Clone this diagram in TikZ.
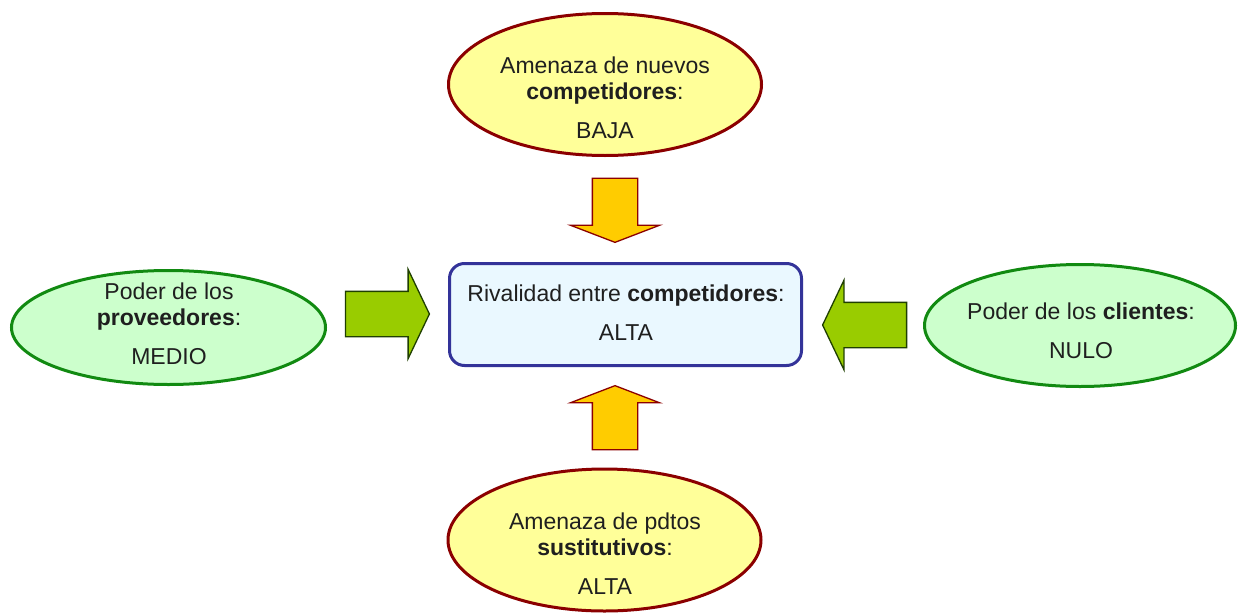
\documentclass[tikz,border=0pt]{standalone}
\usepackage{fontspec}
\setmainfont{Liberation Sans}
\usepackage{xcolor}
\usetikzlibrary{positioning, shapes.geometric, shapes.arrows}

\definecolor{amarillo}{HTML}{FFFF99}
\definecolor{granate}{HTML}{8B0000}
\definecolor{verdeclaro}{HTML}{CCFFCC}
\definecolor{verdeborde}{HTML}{118A11}
\definecolor{verdeflecha}{HTML}{99CC00}
\definecolor{verdeosc}{HTML}{1F3F00}
\definecolor{naranja}{HTML}{FFCC00}
\definecolor{azulborde}{HTML}{333399}
\definecolor{celeste}{HTML}{EAF8FF}

\begin{document}
\begin{tikzpicture}[x=1pt, y=-1pt,
  txt/.style={align=center, text=black!88, inner sep=0pt,
    font=\fontsize{23}{26}\selectfont},
  amenaza/.style={ellipse, draw=granate, fill=amarillo, line width=3pt,
    minimum width=313pt, minimum height=142pt, inner sep=0pt},
  poder/.style={ellipse, draw=verdeborde, fill=verdeclaro, line width=3pt,
    inner sep=0pt},
  rivalidad/.style={draw=azulborde, fill=celeste, line width=3pt,
    rounded corners=15pt, minimum width=352pt, minimum height=102pt},
  flecha/.style={single arrow, line width=1.3pt, inner xsep=0pt, inner ysep=22pt,
    minimum width=88pt, single arrow head extend=22pt, line join=miter},
  flechaverde/.style={flecha, fill=verdeflecha, draw=verdeosc,
    minimum height=84pt, single arrow tip angle=129},
  flechanaranja/.style={flecha, fill=naranja, draw=granate,
    minimum height=64pt, single arrow tip angle=138}]
\useasboundingbox (0,0) rectangle (1239,613);

% fuerzas
\node[amenaza] (nuevos) at (605,84.5) {};
\node[txt] (nuevos-t) at (605,98) {Amenaza de nuevos\\ \textbf{competidores}:\\[13pt] BAJA};
\node[amenaza] (sustitutos) at (604.5,540) {};
\node[txt] (sustitutos-t) at (605,554) {Amenaza de pdtos\\ \textbf{sustitutivos}:\\[13pt] ALTA};
\node[poder, minimum width=314pt, minimum height=114pt] (proveedores) at (168.5,327.5) {};
\node[txt] (proveedores-t) at (169,324) {Poder de los\\ \textbf{proveedores}:\\[13pt] MEDIO};
\node[poder, minimum width=311pt, minimum height=122pt] (clientes) at (1080,325.5) {};
\node[txt] (clientes-t) at (1081,331) {Poder de los \textbf{clientes}:\\[13pt] NULO};

% centro
\node[rivalidad] (rivalidad) at (625.5,314.5) {};
\node[txt] (rivalidad-t) at (626,313) {Rivalidad entre \textbf{competidores}:\\[13pt] ALTA};

% flechas
\node[flechaverde] (f-prov) at (382,314) {};
\node[flechaverde, rotate=180] (f-cli) at (870,325) {};
\node[flechanaranja, rotate=-90] (f-nuevos) at (615,206) {};
\node[flechanaranja, rotate=90] (f-sust) at (615,422) {};
\end{tikzpicture}
\end{document}
